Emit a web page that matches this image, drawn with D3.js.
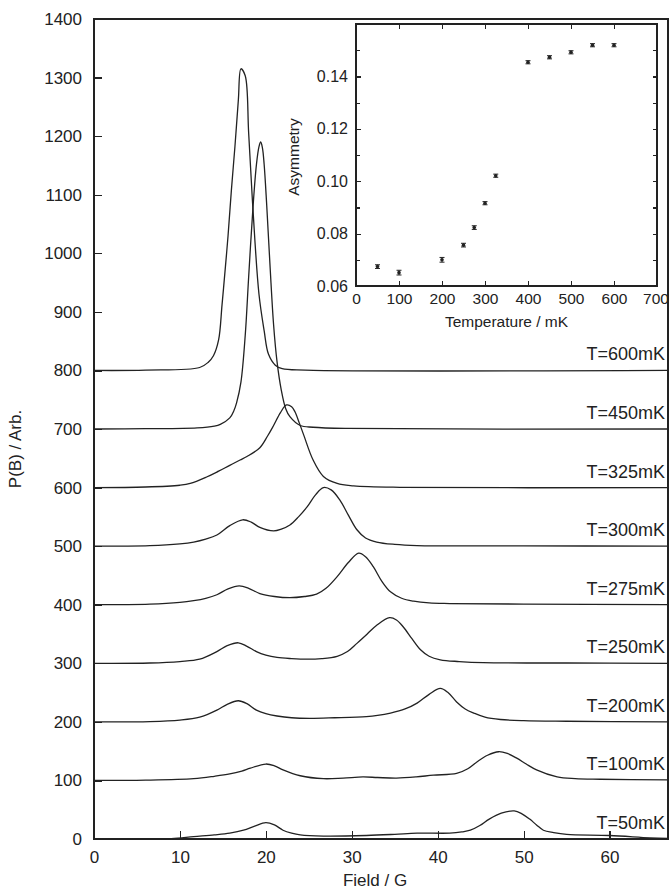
<!DOCTYPE html>
<html lang="en">
<head>
<meta charset="UTF-8">
<script src="https://d3js.org/d3.v7.min.js"></script>
<title>P(B) spectra</title>
<style>
  body { margin: 0; background: #fff; }
  svg { display: block; font-family: "Liberation Sans", Arial, sans-serif; }
  .axis path, .axis line { fill: none; stroke: #222; stroke-width: 1.2; shape-rendering: crispEdges; }
  .axis text { fill: #222; }
  .trace { fill: none; stroke: #222; stroke-width: 1.3; }
</style>
</head>
<body>
<script>
// temperatures and the vertical offset each trace was shifted by
var temps = ["T=50mK", "T=100mK", "T=200mK", "T=250mK", "T=275mK", "T=300mK", "T=325mK", "T=450mK", "T=600mK"];
var offsets = [0, 100, 200, 300, 400, 500, 600, 700, 800];

// field (G) vs P(B) (offset already included)
var t50 = [[0,0],[5,0],[9,0.5],[11.6,4],[14,7],[15.8,10],[17.4,15],[18.7,22],[20,28],[21,24],[22,15],[23,10],[24,7],[26.7,5],[31.7,6],[35,8],[37.6,10],[41.4,10],[42.8,12],[43.8,15],[44.9,23],[46,34],[47.4,44],[48.9,48],[49.8,43],[50.7,34],[51.5,24],[52.3,15],[53.5,11],[55,8],[60,6],[64.7,2],[66.8,1]];
var t100 = [[0,100],[6,100.5],[11.6,103],[14,107],[15.8,111],[17.2,116],[18.2,121],[20,128],[21,125],[22,118],[24,108],[26.7,103],[29,104],[31.3,106],[33,105],[35.2,104],[37.5,106],[39.5,109],[42.2,112],[43.5,120],[44.6,132],[45.8,143],[47.1,149],[48.1,146],[49.2,138],[50.3,128],[51.5,118],[53.9,106],[56,103],[58.9,102],[66.8,101]];
var t200 = [[0,200],[6.5,200.5],[10,203],[12.3,208],[14.3,220],[15.5,230],[16.8,236],[17.8,231],[18.9,220],[20,214],[21.3,210],[23,207],[25.1,206],[28,207],[31.7,209],[33,211],[34.5,215],[36.2,222],[37.6,232],[39,247],[40.3,257],[41.2,250],[42.2,234],[43.2,222],[44.2,215],[45.5,208],[47.3,204],[50,202],[55,201],[66.8,200]];
var t250 = [[0,300],[6.5,300.5],[10,303],[12.3,307],[14.3,320],[15.5,330],[16.8,335],[17.8,329],[18.9,320],[20,314],[21.3,310],[23,308],[24.8,307],[26.5,308],[28.3,312],[29.5,320],[30.6,334],[31.8,350],[32.9,365],[34.4,378],[35.2,374],[36,362],[37,342],[38,323],[39,312],[40.3,306],[42.5,303],[45.3,301],[55,300.5],[66.8,300]];
var t275 = [[0,400],[6.5,401],[10,404],[11.6,407],[13,411],[14.3,417],[15.6,427],[16.9,432],[18,428],[19.3,419],[21,414],[22.8,412],[24.5,414],[25.9,418],[27,428],[28.3,448],[29.6,472],[30.8,488],[31.6,482],[32.5,465],[33.5,440],[34.5,422],[35.8,411],[37.2,406],[39,403],[41.4,402],[50,401],[66.8,400]];
var t300 = [[0,500],[6.5,501],[10,504],[11.6,507],[13,512],[14.3,519],[15.8,535],[17.3,545],[18.3,541],[19.3,532],[20.9,526],[21.8,529],[22.8,536],[23.8,550],[24.8,567],[25.8,588],[26.7,600],[27.6,596],[28.6,579],[29.6,553],[30.6,528],[31.6,514],[32.9,507],[35,503],[37.6,501],[50,500.5],[66.8,500]];
var t325 = [[0,600],[6,601],[10,604],[11.2,607],[13.1,618],[14.5,628],[15.8,638],[17,647],[17.8,653],[19.3,668],[20.2,688],[20.9,706],[21.7,728],[22.4,741],[23,738],[23.4,729],[23.9,710],[24.4,690],[25.5,647],[26.7,619],[28.3,607],[30.2,603],[35.6,600.5],[66.8,600]];
var t450 = [[0,700],[6,700.5],[12,702],[14,705],[14.7,708],[15.8,719],[16.3,732],[16.6,745],[17.1,780],[17.6,860],[18,960],[18.5,1078],[18.9,1151],[19.2,1182],[19.4,1190],[19.6,1180],[19.8,1152],[20.1,1082],[20.5,975],[20.9,878],[21.3,815],[21.8,766],[22.3,735],[22.8,721],[24,706],[25.5,703],[29.4,701],[66.8,700]];
var t600 = [[0,800],[6,800.5],[12.3,805],[13.3,814],[13.9,825],[14.5,852],[14.9,912],[15.3,978],[15.6,1030],[16,1110],[16.4,1182],[16.8,1262],[17.1,1315],[17.6,1303],[18,1205],[18.5,1075],[19.2,930],[19.8,868],[20.3,828],[21.1,809],[21.9,803],[24.6,800.5],[66.8,800]];
var traces = [t50, t100, t200, t250, t275, t300, t325, t450, t600];

// inset: asymmetry vs temperature
var insetT = [50, 100, 200, 250, 275, 300, 325, 400, 450, 500, 550, 600];
var insetA = [0.0674, 0.0651, 0.0700, 0.0756, 0.0823, 0.0916, 0.1021, 0.1454, 0.1473, 0.1492, 0.1519, 0.1519];
var insetErr = [0.0007, 0.0009, 0.0009, 0.0007, 0.0007, 0.0006, 0.0006, 0.0006, 0.0006, 0.0006, 0.0006, 0.0006];

var W = 669, H = 892;
var margin = {top: 19, right: 1, bottom: 53, left: 94},
    width = W - margin.left - margin.right,
    height = H - margin.top - margin.bottom;

var svg = d3.select("body").append("svg")
    .attr("width", W)
    .attr("height", H);

var g = svg.append("g")
    .attr("transform", "translate(" + margin.left + "," + margin.top + ")");

var x = d3.scaleLinear().domain([0, 66.8]).range([0, width]);
var y = d3.scaleLinear().domain([0, 1400]).range([height, 0]);

// frame
g.append("rect")
    .attr("width", width).attr("height", height)
    .attr("fill", "none").attr("stroke", "#222").attr("stroke-width", 1.2)
    .attr("shape-rendering", "crispEdges");

// x-axis
g.append("g")
    .attr("class", "axis")
    .attr("transform", "translate(0," + height + ")")
    .call(d3.axisBottom(x).tickValues([0, 10, 20, 30, 40, 50, 60]).tickSizeInner(-8).tickSizeOuter(0).tickPadding(12))
    .selectAll("text").style("font-size", "17px");

// y-axis
g.append("g")
    .attr("class", "axis")
    .call(d3.axisLeft(y).tickValues(d3.range(0, 1401, 100)).tickFormat(d3.format("d")).tickSizeInner(-8).tickSizeOuter(0).tickPadding(12))
    .selectAll("text").style("font-size", "17px");

g.append("text")
    .attr("x", width / 2 - 6).attr("y", height + 47)
    .style("text-anchor", "middle").style("font-size", "17px").attr("fill", "#222")
    .text("Field / G");

g.append("text")
    .attr("transform", "rotate(-90)")
    .attr("x", -(y(700) + 20)).attr("y", -73)
    .style("text-anchor", "middle").style("font-size", "17px").attr("fill", "#222")
    .text("P(B) / Arb.");

// traces
var line = d3.line()
    .x(function(d) { return x(d[0]); })
    .y(function(d) { return y(d[1]); })
    .curve(d3.curveCatmullRom.alpha(0.5));

g.selectAll(".trace")
    .data(traces)
  .enter().append("path")
    .attr("class", "trace")
    .attr("d", line);

// temperature labels
g.selectAll(".tlabel")
    .data(temps)
  .enter().append("text")
    .attr("class", "tlabel")
    .attr("x", width - 3)
    .attr("y", function(d, i) { return y(offsets[i]) - 10; })
    .style("text-anchor", "end").style("font-size", "18px").attr("fill", "#222")
    .text(function(d) { return d; });

// ---- inset ----
var ix0 = 356, iy0 = 24, iw = 301, ih = 262;
var inset = svg.append("g").attr("transform", "translate(" + ix0 + "," + iy0 + ")");

var xi = d3.scaleLinear().domain([0, 700]).range([0, iw]);
var yi = d3.scaleLinear().domain([0.06, 0.16]).range([ih, 0]);

inset.append("rect")
    .attr("width", iw).attr("height", ih)
    .attr("fill", "#fff").attr("stroke", "#222").attr("stroke-width", 1.2)
    .attr("shape-rendering", "crispEdges");

inset.append("g")
    .attr("class", "axis")
    .attr("transform", "translate(0," + ih + ")")
    .call(d3.axisBottom(xi).tickValues(d3.range(0, 701, 100)).tickSizeInner(-5).tickSizeOuter(0).tickPadding(7))
    .selectAll("text")
    .style("font-size", "15.5px")
    .attr("dx", function(d) { return d === 700 ? "-1.5" : null; });

inset.append("g")
    .attr("class", "axis")
    .call(d3.axisTop(xi).tickValues(d3.range(0, 701, 100)).tickSizeInner(-5).tickSizeOuter(0).tickFormat(""));

inset.append("g")
    .attr("class", "axis")
    .call(d3.axisLeft(yi).tickValues([0.06, 0.08, 0.10, 0.12, 0.14]).tickSizeInner(-5).tickSizeOuter(0).tickPadding(8).tickFormat(d3.format(".2f")))
    .selectAll("text").style("font-size", "16px");

inset.append("g")
    .attr("class", "axis")
    .call(d3.axisLeft(yi).tickValues([0.07, 0.09, 0.11, 0.13, 0.15]).tickSizeInner(-4).tickSizeOuter(0).tickFormat(""));

inset.append("g")
    .attr("class", "axis")
    .attr("transform", "translate(" + iw + ",0)")
    .call(d3.axisRight(yi).tickValues(d3.range(0.06, 0.1601, 0.01)).tickSizeInner(-4).tickSizeOuter(0).tickFormat(""));

inset.append("text")
    .attr("x", iw / 2).attr("y", ih + 41)
    .style("text-anchor", "middle").style("font-size", "15.5px").attr("fill", "#222")
    .text("Temperature / mK");

inset.append("text")
    .attr("transform", "rotate(-90)")
    .attr("x", -(ih / 2 + 2)).attr("y", -57)
    .style("text-anchor", "middle").style("font-size", "15.5px").attr("fill", "#222")
    .text("Asymmetry");

// error bars
var pts = inset.selectAll(".pt")
    .data(insetT)
  .enter().append("g")
    .attr("class", "pt");

pts.append("line")
    .attr("x1", function(d) { return xi(d); })
    .attr("x2", function(d) { return xi(d); })
    .attr("y1", function(d, i) { return yi(insetA[i] - insetErr[i]); })
    .attr("y2", function(d, i) { return yi(insetA[i] + insetErr[i]); })
    .attr("stroke", "#222").attr("stroke-width", 1);

[-1, 1].forEach(function(s) {
  pts.append("line")
      .attr("x1", function(d) { return xi(d) - 2.5; })
      .attr("x2", function(d) { return xi(d) + 2.5; })
      .attr("y1", function(d, i) { return yi(insetA[i] + s * insetErr[i]); })
      .attr("y2", function(d, i) { return yi(insetA[i] + s * insetErr[i]); })
      .attr("stroke", "#222").attr("stroke-width", 1);
});

pts.append("circle")
    .attr("cx", function(d) { return xi(d); })
    .attr("cy", function(d, i) { return yi(insetA[i]); })
    .attr("r", 1.8)
    .attr("fill", "#222");
</script>
</body>
</html>
